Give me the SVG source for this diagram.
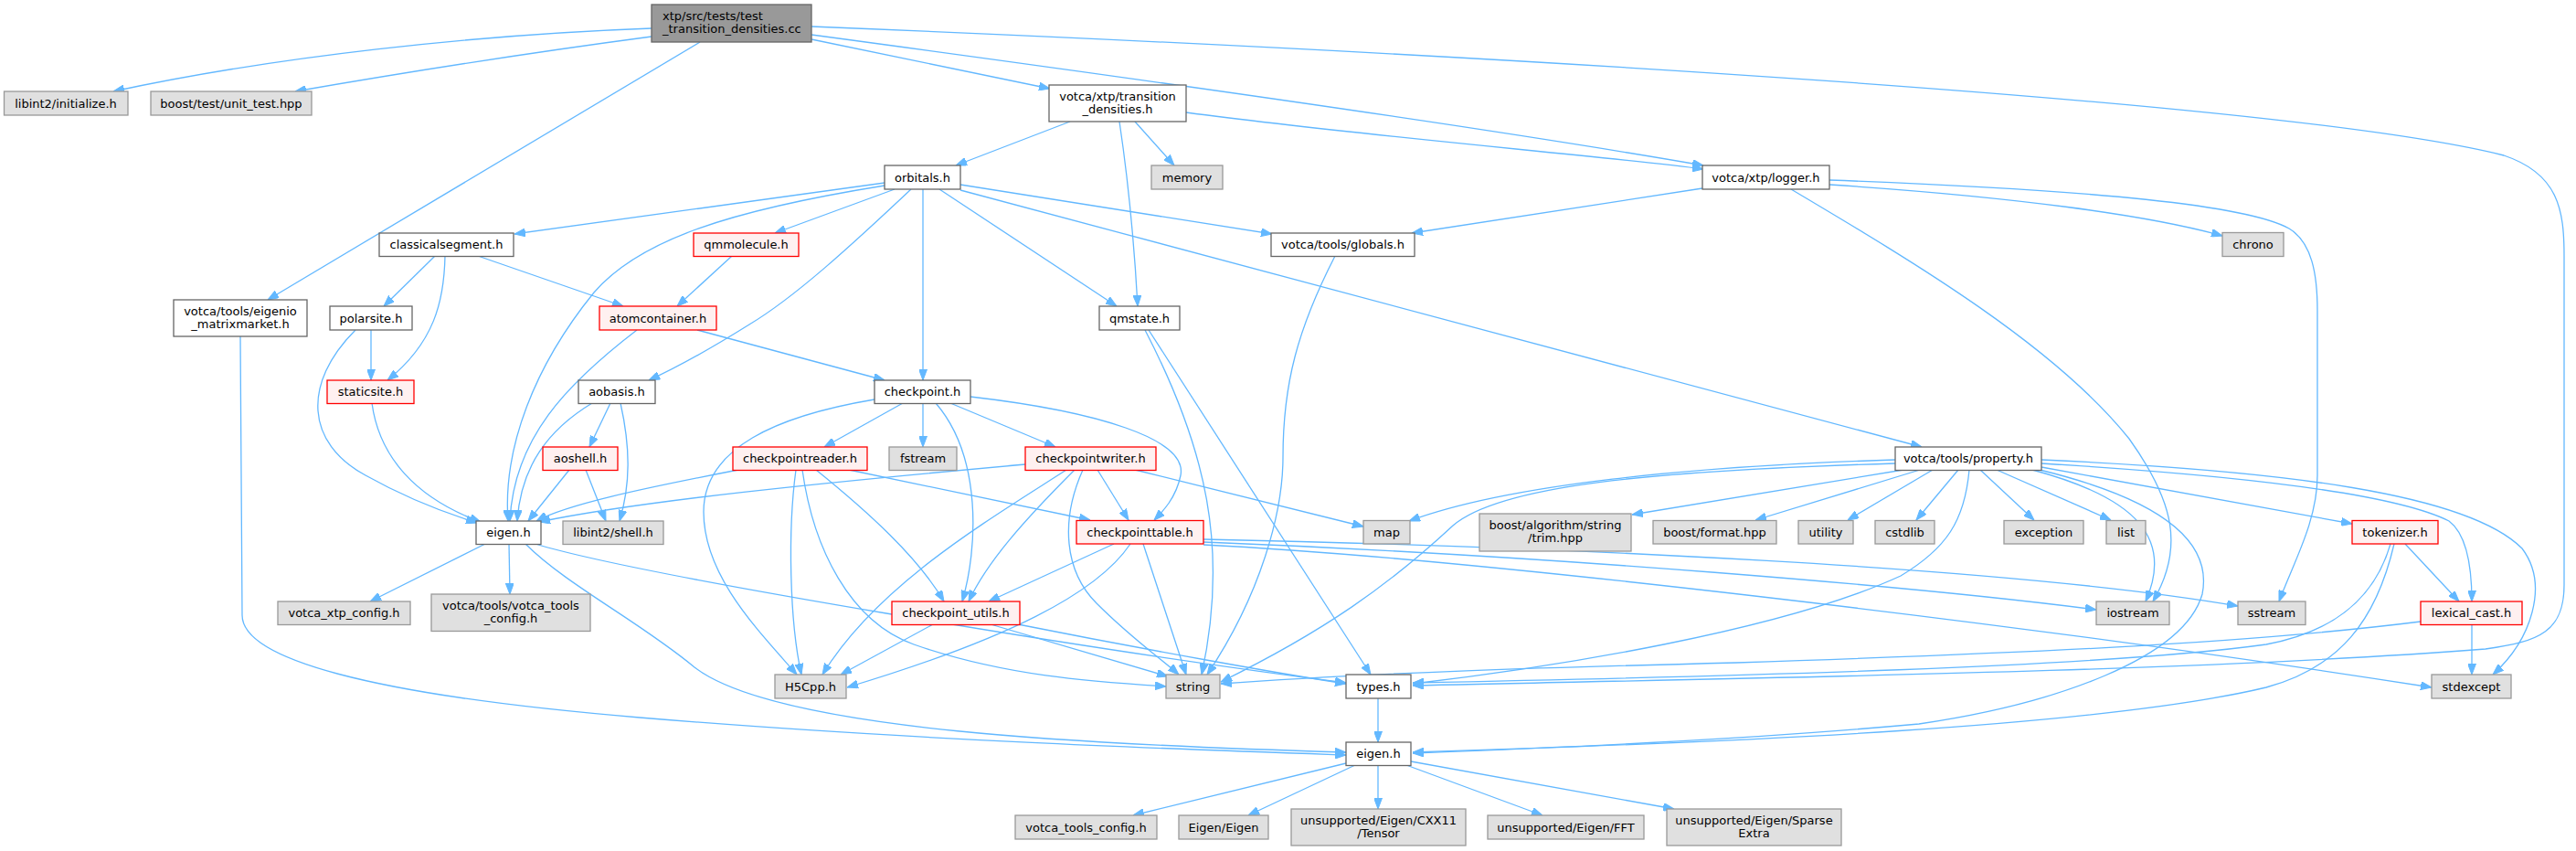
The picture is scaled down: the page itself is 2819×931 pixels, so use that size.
<svg xmlns="http://www.w3.org/2000/svg" width="2819" height="931" viewBox="0 0 2819 931">
<defs>
<style>
.e{fill:none;stroke:#63b8ff;stroke-width:1.3;marker-end:url(#a)}
.n rect{fill:#ffffff;stroke:#666666;stroke-width:1.3}
.g rect{fill:#e0e0e0;stroke:#999999;stroke-width:1.3}
.r rect{fill:#fff0f0;stroke:#ff0000;stroke-width:1.3}
.root rect{fill:#999999;stroke:#666666;stroke-width:1.3}
text{font-family:"DejaVu Sans","Liberation Sans",sans-serif;font-size:13px;fill:#000000;text-anchor:middle}
.root text{text-anchor:start}
</style>
<marker id="a" viewBox="0 0 12 9" refX="12" refY="4.5" markerWidth="12" markerHeight="9" markerUnits="userSpaceOnUse" orient="auto">
<path d="M0,0 L12,4.5 L0,9 z" fill="#63b8ff" stroke="#63b8ff" stroke-width="1"/>
</marker>
</defs>
<rect x="0" y="0" width="2819" height="931" fill="#ffffff"/>
<g id="edges">
<path class="e" d="M713,31 C520,38 300,62 124,100"/>
<path class="e" d="M713,40 C600,55 450,78 323,100"/>
<path class="e" d="M766,46 L293,328"/>
<path class="e" d="M888,43 L1149,97"/>
<path class="e" d="M888,38 C1200,80 1600,135 1864,181"/>
<path class="e" d="M888,29 C1600,58 2500,110 2740,170 C2800,190 2806,230 2806,280 L2806,640 C2806,690 2780,702 2720,710 C2400,735 1900,742 1546,750"/>
<path class="e" d="M1171,133 L1046,181"/>
<path class="e" d="M1242,133 L1285,181"/>
<path class="e" d="M1225,133 C1235,200 1242,280 1245,335"/>
<path class="e" d="M1298,123 C1500,150 1750,170 1864,185"/>
<path class="e" d="M1863,206 L1545,255"/>
<path class="e" d="M2002,202 C2200,215 2350,235 2432,258"/>
<path class="e" d="M2002,197 C2300,208 2460,225 2505,250 C2530,265 2536,300 2536,340 L2536,520 C2536,570 2510,615 2494,658"/>
<path class="e" d="M1960,207 C2100,290 2250,380 2330,480 C2380,550 2390,600 2356,658"/>
<path class="e" d="M968,200 L563,256"/>
<path class="e" d="M968,203 C800,230 700,262 650,320 C585,400 550,490 556,570"/>
<path class="e" d="M979,207 L848,255"/>
<path class="e" d="M997,207 C930,270 870,325 820,355 C780,380 745,400 710,416"/>
<path class="e" d="M1010,207 L1010,416"/>
<path class="e" d="M1028,207 L1222,335"/>
<path class="e" d="M1051,202 L1392,256"/>
<path class="e" d="M1051,208 L2103,489"/>
<path class="e" d="M476,280 L420,335"/>
<path class="e" d="M487,280 C486,330 475,375 424,416"/>
<path class="e" d="M523,280 L682,335"/>
<path class="e" d="M801,280 L741,335"/>
<path class="e" d="M406,361 L406,416"/>
<path class="e" d="M389,361 C330,420 335,485 400,520 C450,548 490,562 522,572"/>
<path class="e" d="M407,441 C415,500 455,545 526,571"/>
<path class="e" d="M697,361 C620,420 562,480 558,570"/>
<path class="e" d="M763,361 L968,416"/>
<path class="e" d="M668,441 L645,489"/>
<path class="e" d="M648,441 C600,470 570,510 566,570"/>
<path class="e" d="M679,441 C690,490 690,530 678,570"/>
<path class="e" d="M623,514 L578,570"/>
<path class="e" d="M641,514 L663,570"/>
<path class="e" d="M957,437 C850,455 770,490 770,560 C770,630 830,690 872,738"/>
<path class="e" d="M988,441 L902,489"/>
<path class="e" d="M1010,441 L1010,489"/>
<path class="e" d="M1024,441 C1075,500 1070,600 1053,658"/>
<path class="e" d="M1040,441 L1155,489"/>
<path class="e" d="M1062,434 C1200,450 1300,480 1292,520 C1287,545 1272,560 1263,569"/>
<path class="e" d="M808,514 C700,535 620,552 587,570"/>
<path class="e" d="M871,514 C862,580 864,680 877,738"/>
<path class="e" d="M878,514 C890,600 930,680 1000,705 C1100,740 1200,746 1276,751"/>
<path class="e" d="M893,514 C950,560 1005,610 1033,658"/>
<path class="e" d="M929,514 L1193,569"/>
<path class="e" d="M1122,508 C900,528 700,548 590,571"/>
<path class="e" d="M1167,514 C1080,570 960,640 900,738"/>
<path class="e" d="M1176,514 C1120,570 1080,615 1060,658"/>
<path class="e" d="M1185,514 C1160,570 1165,625 1200,660 C1240,700 1270,720 1290,738"/>
<path class="e" d="M1201,514 L1235,569"/>
<path class="e" d="M1242,514 L1492,576"/>
<path class="e" d="M1219,595 L1082,658"/>
<path class="e" d="M1237,595 C1200,650 1100,700 927,752"/>
<path class="e" d="M1251,595 L1298,738"/>
<path class="e" d="M1317,590 C1700,598 2200,620 2449,663"/>
<path class="e" d="M1317,593 C1700,608 2100,642 2294,667"/>
<path class="e" d="M1317,596 C1600,610 2200,680 2661,752"/>
<path class="e" d="M1021,683 L920,738"/>
<path class="e" d="M1084,683 L1278,740"/>
<path class="e" d="M1114,683 C1250,710 1400,737 1473,748"/>
<path class="e" d="M531,595 L405,658"/>
<path class="e" d="M557,595 L558,650"/>
<path class="e" d="M575,595 C620,640 700,680 760,730 C850,800 1200,815 1473,823"/>
<path class="e" d="M586,595 C700,630 1200,712 1473,747"/>
<path class="e" d="M263,368 L265,673 C265,720 400,760 700,785 C1000,810 1300,820 1473,826"/>
<path class="e" d="M1508,764 L1508,812"/>
<path class="e" d="M1473,835 L1240,892"/>
<path class="e" d="M1483,837 L1366,892"/>
<path class="e" d="M1508,837 L1508,885"/>
<path class="e" d="M1539,837 L1688,892"/>
<path class="e" d="M1544,833 L1832,885"/>
<path class="e" d="M2074,503 C1850,510 1650,530 1542,570"/>
<path class="e" d="M2074,507 C1800,515 1640,532 1590,575 C1520,640 1450,690 1336,746"/>
<path class="e" d="M2083,514 L1786,563"/>
<path class="e" d="M2101,514 L1921,569"/>
<path class="e" d="M2115,514 L2022,569"/>
<path class="e" d="M2143,514 L2097,569"/>
<path class="e" d="M2167,514 L2226,569"/>
<path class="e" d="M2185,514 L2310,569"/>
<path class="e" d="M2234,511 L2574,573"/>
<path class="e" d="M2234,507 C2450,520 2620,540 2680,570 C2700,585 2705,620 2705,658"/>
<path class="e" d="M2234,503 C2500,515 2700,540 2760,600 C2790,640 2770,700 2728,738"/>
<path class="e" d="M2224,514 C2340,545 2378,590 2348,658"/>
<path class="e" d="M2232,514 C2380,550 2420,600 2410,650 C2390,720 2250,770 2100,792 C1900,810 1700,818 1546,824"/>
<path class="e" d="M2155,514 C2150,570 2130,600 2080,630 C1950,690 1700,730 1546,748"/>
<path class="e" d="M2632,595 L2691,658"/>
<path class="e" d="M2616,595 C2600,650 2560,690 2480,705 C2300,730 1900,740 1546,747"/>
<path class="e" d="M2620,595 C2600,680 2560,730 2480,752 C2300,795 1900,812 1546,823"/>
<path class="e" d="M2705,683 L2705,738"/>
<path class="e" d="M2649,680 C2450,705 2200,715 1900,725 C1700,730 1500,736 1336,748"/>
<path class="e" d="M1461,280 C1420,360 1404,420 1404,500 C1404,560 1380,650 1321,738"/>
<path class="e" d="M1253,361 C1320,490 1345,600 1315,738"/>
<path class="e" d="M1257,361 L1500,738"/>
</g>
<g id="root" class="root"><rect x="713" y="5" width="175" height="41"/><text x="725" y="21.5">xtp/src/tests/test</text><text x="725" y="36">_transition_densities.cc</text></g>
<g id="n_libinit" class="g"><rect x="4.5" y="100" width="135.5" height="26"/><text x="72" y="117.5">libint2/initialize.h</text></g>
<g id="n_boosttest" class="g"><rect x="165" y="100" width="176" height="26"/><text x="253" y="117.5">boost/test/unit_test.hpp</text></g>
<g id="n_td" class="n"><rect x="1148" y="93" width="150" height="40"/><text x="1223" y="109.5">votca/xtp/transition</text><text x="1223" y="124">_densities.h</text></g>
<g id="n_logger" class="n"><rect x="1863" y="181" width="139" height="26"/><text x="1932.5" y="198.5">votca/xtp/logger.h</text></g>
<g id="n_eigenio" class="n"><rect x="190" y="328" width="146" height="40"/><text x="263" y="344.5">votca/tools/eigenio</text><text x="263" y="359">_matrixmarket.h</text></g>
<g id="n_orbitals" class="n"><rect x="968" y="181" width="83" height="26"/><text x="1009.5" y="198.5">orbitals.h</text></g>
<g id="n_memory" class="g"><rect x="1260" y="181" width="78" height="26"/><text x="1299" y="198.5">memory</text></g>
<g id="n_cseg" class="n"><rect x="415" y="255" width="147" height="25.5"/><text x="488.5" y="272.3">classicalsegment.h</text></g>
<g id="n_qmmol" class="r"><rect x="759" y="255" width="115" height="25.5"/><text x="816.5" y="272.3">qmmolecule.h</text></g>
<g id="n_globals" class="n"><rect x="1391" y="255" width="157" height="25.5"/><text x="1469.5" y="272.3">votca/tools/globals.h</text></g>
<g id="n_chrono" class="g"><rect x="2432" y="254.5" width="67" height="26"/><text x="2465.5" y="272">chrono</text></g>
<g id="n_polar" class="n"><rect x="361" y="335" width="90" height="26"/><text x="406" y="352.5">polarsite.h</text></g>
<g id="n_atomc" class="r"><rect x="656" y="335" width="128" height="26"/><text x="720" y="352.5">atomcontainer.h</text></g>
<g id="n_qmstate" class="n"><rect x="1203" y="335" width="88" height="26"/><text x="1247" y="352.5">qmstate.h</text></g>
<g id="n_static" class="r"><rect x="358" y="416" width="95" height="25.5"/><text x="405.5" y="433.3">staticsite.h</text></g>
<g id="n_aobasis" class="n"><rect x="633" y="416" width="84" height="25.5"/><text x="675" y="433.3">aobasis.h</text></g>
<g id="n_checkpoint" class="n"><rect x="957" y="416" width="105" height="25.5"/><text x="1009.5" y="433.3">checkpoint.h</text></g>
<g id="n_property" class="n"><rect x="2074" y="489" width="160" height="25.5"/><text x="2154" y="506.3">votca/tools/property.h</text></g>
<g id="n_aoshell" class="r"><rect x="594" y="489" width="82" height="25.5"/><text x="635" y="506.3">aoshell.h</text></g>
<g id="n_cpreader" class="r"><rect x="802" y="489" width="147" height="25.5"/><text x="875.5" y="506.3">checkpointreader.h</text></g>
<g id="n_fstream" class="g"><rect x="973" y="489" width="74" height="25.5"/><text x="1010" y="506.3">fstream</text></g>
<g id="n_cpwriter" class="r"><rect x="1122" y="489" width="143" height="25.5"/><text x="1193.5" y="506.3">checkpointwriter.h</text></g>
<g id="n_eigenx" class="n"><rect x="521" y="570" width="71" height="25.5"/><text x="556.5" y="587.3">eigen.h</text></g>
<g id="n_shell" class="g"><rect x="616" y="570" width="110" height="25.5"/><text x="671" y="587.3">libint2/shell.h</text></g>
<g id="n_cptable" class="r"><rect x="1178" y="569.5" width="139" height="25.5"/><text x="1247.5" y="586.8">checkpointtable.h</text></g>
<g id="n_map" class="g"><rect x="1492" y="569.5" width="51" height="25.5"/><text x="1517.5" y="586.8">map</text></g>
<g id="n_trim" class="g"><rect x="1619" y="562" width="166" height="41"/><text x="1702" y="578.5">boost/algorithm/string</text><text x="1702" y="593">/trim.hpp</text></g>
<g id="n_format" class="g"><rect x="1809" y="569.5" width="135" height="25.5"/><text x="1876.5" y="586.8">boost/format.hpp</text></g>
<g id="n_utility" class="g"><rect x="1968" y="569.5" width="60" height="25.5"/><text x="1998" y="586.8">utility</text></g>
<g id="n_cstdlib" class="g"><rect x="2052" y="569.5" width="65" height="25.5"/><text x="2084.5" y="586.8">cstdlib</text></g>
<g id="n_exception" class="g"><rect x="2193" y="569.5" width="87" height="25.5"/><text x="2236.5" y="586.8">exception</text></g>
<g id="n_list" class="g"><rect x="2305" y="569.5" width="43" height="25.5"/><text x="2326.5" y="586.8">list</text></g>
<g id="n_tokenizer" class="r"><rect x="2574" y="569.5" width="94" height="25.5"/><text x="2621" y="586.8">tokenizer.h</text></g>
<g id="n_xtpconfig" class="g"><rect x="304" y="658" width="145" height="25.5"/><text x="376.5" y="675.3">votca_xtp_config.h</text></g>
<g id="n_toolsconfig1" class="g"><rect x="472" y="650" width="174" height="40.5"/><text x="559" y="666.5">votca/tools/votca_tools</text><text x="559" y="681">_config.h</text></g>
<g id="n_cputils" class="r"><rect x="976" y="658" width="140" height="25.5"/><text x="1046" y="675.3">checkpoint_utils.h</text></g>
<g id="n_iostream" class="g"><rect x="2294" y="658" width="80" height="25.5"/><text x="2334" y="675.3">iostream</text></g>
<g id="n_sstream" class="g"><rect x="2449" y="658" width="74" height="25.5"/><text x="2486" y="675.3">sstream</text></g>
<g id="n_lexcast" class="r"><rect x="2649" y="658" width="111" height="25.5"/><text x="2704.5" y="675.3">lexical_cast.h</text></g>
<g id="n_h5" class="g"><rect x="848" y="738" width="78" height="26"/><text x="887" y="755.5">H5Cpp.h</text></g>
<g id="n_string" class="g"><rect x="1276" y="738" width="59" height="26"/><text x="1305.5" y="755.5">string</text></g>
<g id="n_types" class="n"><rect x="1473" y="738" width="71" height="26"/><text x="1508.5" y="755.5">types.h</text></g>
<g id="n_stdexcept" class="g"><rect x="2661" y="738" width="87" height="26"/><text x="2704.5" y="755.5">stdexcept</text></g>
<g id="n_eigent" class="n"><rect x="1473" y="812" width="71" height="25.5"/><text x="1508.5" y="829.3">eigen.h</text></g>
<g id="n_toolsconfig2" class="g"><rect x="1111" y="892" width="155" height="26"/><text x="1188.5" y="909.5">votca_tools_config.h</text></g>
<g id="n_eigeneigen" class="g"><rect x="1290" y="892" width="98" height="26"/><text x="1339" y="909.5">Eigen/Eigen</text></g>
<g id="n_tensor" class="g"><rect x="1413" y="885" width="191" height="40"/><text x="1508.5" y="901.5">unsupported/Eigen/CXX11</text><text x="1508.5" y="916">/Tensor</text></g>
<g id="n_fft" class="g"><rect x="1628" y="892" width="171" height="26"/><text x="1713.5" y="909.5">unsupported/Eigen/FFT</text></g>
<g id="n_sparse" class="g"><rect x="1824" y="885" width="191" height="40"/><text x="1919.5" y="901.5">unsupported/Eigen/Sparse</text><text x="1919.5" y="916">Extra</text></g>
</svg>
